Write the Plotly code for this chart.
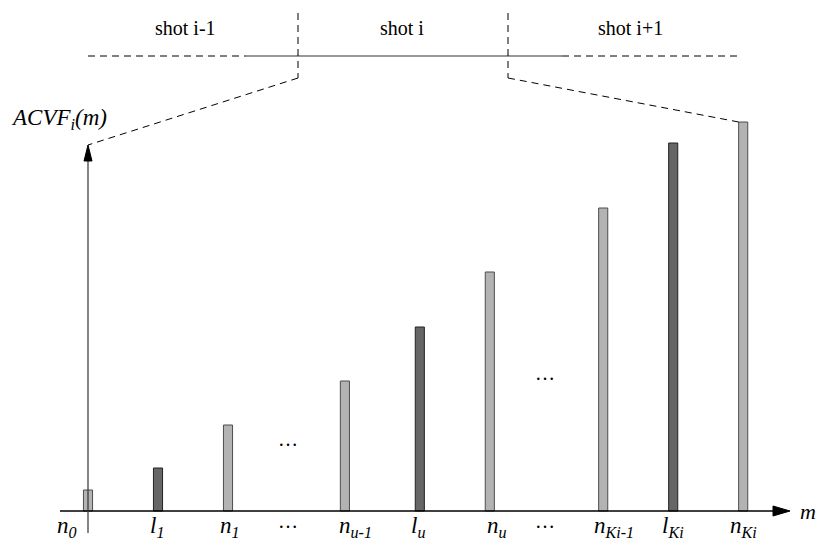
import plotly.graph_objects as go

# ---------------- data ----------------
labels = ["n<sub>0</sub>", "l<sub>1</sub>", "n<sub>1</sub>", "n<sub>u-1</sub>", "l<sub>u</sub>",
          "n<sub>u</sub>", "n<sub>Ki-1</sub>", "l<sub>Ki</sub>", "n<sub>Ki</sub>"]
kinds = ["n", "l", "n", "n", "l", "n", "n", "l", "n"]
m_pos = [0, 1, 2, 3.67, 4.74, 5.74, 7.36, 8.36, 9.36]
acvf = [2.1, 4.3, 8.6, 13.0, 18.4, 23.9, 30.3, 36.8, 38.9]
dots_pos = [2.85, 6.53]
dots_height = [7.2, 13.8]
shot_labels = ["shot i-1", "shot i", "shot i+1"]

# ---------------- layout helpers (pixel -> axis units) ----------------
W, H = 821, 544
PX0, PXU = 88, 70.0     # pixel of m=0, pixels per m unit
PY0, PYU = 511, 10.0    # pixel of ACVF=0, pixels per ACVF unit
LABEL_DX = [-21, -1, 2, 11, -2, 7, 11, 0, 0]   # pixel nudges of tick labels


def X(px):
    return (px - PX0) / PXU


def Y(py):
    return (PY0 - py) / PYU


LIGHT, LIGHT_EDGE = "#b3b3b3", "#4d4d4d"
DARK, DARK_EDGE = "#666666", "#222222"
SERIF = "Liberation Serif, Times New Roman, serif"

fig = go.Figure()
fig.add_trace(go.Bar(
    x=m_pos, y=acvf, width=0.13,
    marker=dict(color=[LIGHT if k == "n" else DARK for k in kinds],
                line=dict(color=[LIGHT_EDGE if k == "n" else DARK_EDGE for k in kinds], width=1)),
    hoverinfo="skip", showlegend=False,
))

shapes = []
# x axis with arrow
shapes.append(dict(type="line", xref="x", yref="y", x0=X(60), x1=X(776), y0=0, y1=0,
                   line=dict(color="black", width=1.5)))
shapes.append(dict(type="path", xref="x", yref="y",
                   path=f"M {X(773)},{Y(506)} L {X(790)},0 L {X(773)},{Y(516)} Z",
                   fillcolor="black", line=dict(color="black", width=1)))
# y axis with arrow
shapes.append(dict(type="line", xref="x", yref="y", x0=0, x1=0, y0=Y(533), y1=Y(159),
                   line=dict(color="#333333", width=1.2)))
shapes.append(dict(type="path", xref="x", yref="y",
                   path=f"M {X(84)},{Y(161)} L 0,{Y(145)} L {X(92)},{Y(161)} Z",
                   fillcolor="black", line=dict(color="black", width=1)))

# top timeline
DASH = "7px,5px"
yl = Y(56)
shapes.append(dict(type="line", xref="x", yref="y", x0=X(88), x1=X(246), y0=yl, y1=yl,
                   line=dict(color="black", width=1, dash=DASH)))
shapes.append(dict(type="line", xref="x", yref="y", x0=X(246), x1=X(562), y0=yl, y1=yl,
                   line=dict(color="#333333", width=1)))
shapes.append(dict(type="line", xref="x", yref="y", x0=X(562), x1=X(742), y0=yl, y1=yl,
                   line=dict(color="black", width=1, dash=DASH)))
for bx in (298, 508):
    shapes.append(dict(type="line", xref="x", yref="y", x0=X(bx), x1=X(bx), y0=Y(13), y1=Y(78),
                       line=dict(color="black", width=1, dash=DASH)))
# zoom lines to the ACVF plot
shapes.append(dict(type="line", xref="x", yref="y", x0=X(298), y0=Y(78), x1=0, y1=Y(145),
                   line=dict(color="black", width=1, dash=DASH)))
shapes.append(dict(type="line", xref="x", yref="y", x0=X(508), y0=Y(78),
                   x1=m_pos[-1] - 0.065, y1=acvf[-1],
                   line=dict(color="black", width=1, dash=DASH)))

annotations = []
# tick labels below the axis
for lab, xp, dx in zip(labels, m_pos, LABEL_DX):
    annotations.append(dict(x=xp, y=Y(527), xref="x", yref="y", text=f"<i>{lab}</i>",
                            showarrow=False, xanchor="center", yanchor="middle", xshift=dx,
                            font=dict(family=SERIF, size=23, color="black")))
for dp, dh in zip(dots_pos, dots_height):
    annotations.append(dict(x=dp, y=Y(521), xref="x", yref="y", text="…", showarrow=False,
                            font=dict(family=SERIF, size=20, color="black")))
    annotations.append(dict(x=dp, y=dh, xref="x", yref="y", text="…", showarrow=False,
                            font=dict(family=SERIF, size=20, color="black")))
# axis titles
annotations.append(dict(x=X(798), y=0, xref="x", yref="y", text="<i>m</i>", showarrow=False,
                        xanchor="left", font=dict(family=SERIF, size=22, color="black")))
annotations.append(dict(x=X(9), y=Y(119), xref="x", yref="y", text="<i>ACVF<sub>i</sub>(m)</i>",
                        showarrow=False, xanchor="left",
                        font=dict(family=SERIF, size=23, color="black")))
# shot labels
for sl, sx in zip(shot_labels, (185, 402, 630)):
    annotations.append(dict(x=X(sx), y=Y(28), xref="x", yref="y", text=sl, showarrow=False,
                            font=dict(family=SERIF, size=20, color="black")))

fig.update_layout(
    width=W, height=H, margin=dict(l=0, r=0, t=0, b=0),
    paper_bgcolor="white", plot_bgcolor="white",
    xaxis=dict(range=[X(0), X(W)], visible=False, fixedrange=True),
    yaxis=dict(range=[Y(H), Y(0)], visible=False, fixedrange=True),
    shapes=shapes, annotations=annotations, showlegend=False,
)
fig.write_html("out.html", config={"displayModeBar": False},
               post_script="document.body.style.margin='0';document.body.style.overflow='hidden';")
